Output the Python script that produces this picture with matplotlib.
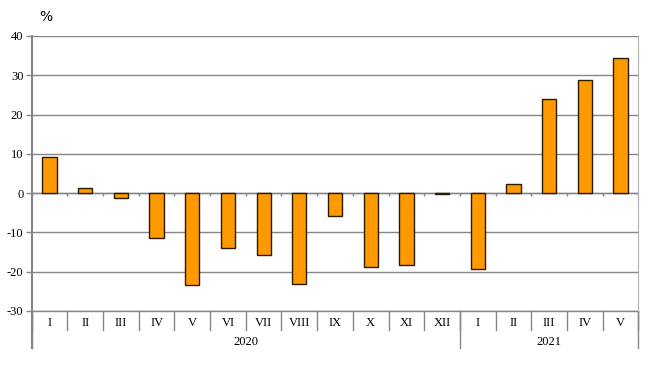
import matplotlib
matplotlib.use("Agg")
import matplotlib.pyplot as plt
import matplotlib.transforms as mtransforms
import numpy as np

months = ["I", "II", "III", "IV", "V", "VI", "VII", "VIII", "IX", "X", "XI", "XII",
          "I", "II", "III", "IV", "V"]
years = ["2020", "2021"]
year_counts = [12, 5]
values = [9.1, 1.4, -1.2, -11.4, -23.4, -13.9, -15.8, -23.2, -5.9, -18.8, -18.4, -0.3,
          -19.3, 2.2, 24.0, 28.9, 34.4]

serif = "Liberation Serif"
grey = "#868686"

fig = plt.figure(figsize=(6.48, 3.67), dpi=100)
ax = fig.add_axes([0.049, 0.153, 0.936, 0.749])

x = np.arange(len(values))
ax.bar(x, values, width=0.4, color="#FF9900", edgecolor="#2a1a00", linewidth=1.0, zorder=3)

ax.set_xlim(-0.5, len(values) - 0.5)
ax.set_ylim(-30, 40)
ax.set_yticks(np.arange(-30, 41, 10))
ax.set_yticklabels([str(v) for v in range(-30, 41, 10)], fontfamily=serif, fontsize=9)
ax.tick_params(axis="y", length=4, width=1, color=grey, pad=2)
ax.set_xticks([])
ax.yaxis.grid(True, color=grey, linewidth=1)
ax.set_axisbelow(True)
for side in ["top", "bottom"]:
    ax.spines[side].set_visible(False)
ax.spines["left"].set_color(grey)
ax.spines["left"].set_linewidth(1.5)
ax.spines["right"].set_color("#b0b0b0")
ax.axhline(0, color=grey, linewidth=1, zorder=2)

# small tick marks on the zero line at category boundaries
ax.vlines(np.arange(len(values) + 1) - 0.5, -0.8, 0, color=grey, linewidth=1, zorder=2)

# category axis below the plot
trans = mtransforms.blended_transform_factory(ax.transData, ax.transAxes)
for i, m in enumerate(months):
    ax.text(i, -0.043, m, transform=trans, ha="center", va="center",
            fontfamily=serif, fontsize=9)
for b in range(len(values) + 1):
    ax.plot([b - 0.5, b - 0.5], [0, -0.07], transform=trans, color=grey,
            linewidth=1, clip_on=False)
start = 0
for yr, n in zip(years, year_counts):
    ax.text(start + (n - 1) / 2, -0.115, yr, transform=trans, ha="center",
            va="center", fontfamily=serif, fontsize=9)
    ax.plot([start - 0.5, start - 0.5], [0, -0.135], transform=trans, color=grey,
            linewidth=1, clip_on=False)
    start += n
ax.plot([start - 0.5, start - 0.5], [0, -0.135], transform=trans, color=grey,
        linewidth=1, clip_on=False)
ax.plot([-0.5, -0.5], [0, -0.135], transform=trans, color=grey,
        linewidth=1.5, clip_on=False)
ax.plot([-0.5, len(values) - 0.5], [0, 0], transform=trans, color=grey,
        linewidth=1, clip_on=False)

fig.text(0.07, 0.955, "%", ha="center", va="center", fontsize=10)

fig.savefig("out.png", dpi=100)
